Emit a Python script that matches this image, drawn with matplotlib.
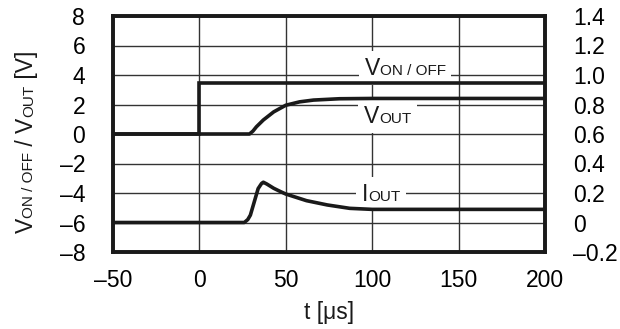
import matplotlib
matplotlib.use("Agg")
import matplotlib.pyplot as plt
from matplotlib.offsetbox import TextArea, HPacker, AnnotationBbox

plt.rcParams['font.family'] = ['Liberation Sans', 'DejaVu Sans']

# data
t_von = [-50, 0, 0, 200]
v_von = [0, 0, 3.45, 3.45]

t_vout = [-50, 29, 31, 33, 37, 43, 50, 58, 66, 81, 100, 200]
v_vout = [0, 0, 0.2, 0.49, 0.95, 1.5, 1.95, 2.18, 2.3, 2.39, 2.41, 2.41]

t_iout = [-50, 26, 28, 29.5, 32, 34, 36, 37, 39, 43, 47, 50, 62, 74, 87, 100, 200]
i_iout = [0, 0, 0.02, 0.05, 0.15, 0.23, 0.265, 0.273, 0.261, 0.232, 0.209, 0.193,
          0.148, 0.119, 0.096, 0.089, 0.089]

x_ticks = [-50, 0, 50, 100, 150, 200]
x_labels = ['\u201350', '0', '50', '100', '150', '200']
y_ticks = [-8, -6, -4, -2, 0, 2, 4, 6, 8]
y_labels = ['\u20138', '\u20136', '\u20134', '\u20132', '0', '2', '4', '6', '8']
i_ticks = [-0.2, 0, 0.2, 0.4, 0.6, 0.8, 1.0, 1.2, 1.4]
i_labels = ['\u20130.2', '0', '0.2', '0.4', '0.6', '0.8', '1.0', '1.2', '1.4']

BIG = 16.5
SMALL = 11
INK = '#1a1a1a'

fig = plt.figure(figsize=(6.2, 3.29), dpi=100)
ax = fig.add_axes([113/620, 1-252/329, 432/620, 236/329])
ax2 = ax.twinx()

ax.set_xlim(-50, 200)
ax.set_ylim(-8, 8)
ax2.set_ylim(-0.2, 1.4)
ax.set_xticks(x_ticks, x_labels)
ax.set_yticks(y_ticks, y_labels)
ax2.set_yticks(i_ticks, i_labels)
ax.tick_params(length=0, labelsize=BIG, pad=12)
ax.tick_params(axis='y', pad=20)
ax2.tick_params(length=0, labelsize=BIG, pad=20)
ax.grid(True, color='#333333', lw=1.0)

for a in (ax, ax2):
    for s in a.spines.values():
        s.set_linewidth(2.6)
        s.set_color(INK)

ax.plot(t_von, v_von, color=INK, lw=2.6, zorder=4, solid_joinstyle='miter')
ax.plot(t_vout, v_vout, color=INK, lw=2.6, zorder=4)
ax2.plot(t_iout, i_iout, color=INK, lw=2.6, zorder=4)


def label(big, small, x, y):
    box = HPacker(children=[TextArea(big, textprops=dict(size=BIG, color=INK)),
                            TextArea(small, textprops=dict(size=SMALL, color=INK))],
                  align='baseline', pad=0, sep=0)
    ab = AnnotationBbox(box, (x, y), xycoords='data', frameon=True, pad=0.4,
                        bboxprops=dict(fc='white', ec='none'), zorder=3)
    ax.add_artist(ab)


label('V', 'ON / OFF', 119, 4.45)
label('V', 'OUT', 109, 1.22)
label('I', 'OUT', 105, -4.07)

# x label
fig.text(329/620, 10/329, 't [\u03bcs]', ha='center', va='baseline', size=BIG, color=INK)

# y label built from pieces, bottom to top
pieces = [('V', BIG), ('ON / OFF', SMALL), (' / ', BIG), ('V', BIG), ('OUT', SMALL), (' [V]', BIG)]
fig.canvas.draw()
r = fig.canvas.get_renderer()
ypix = 329 - 233
for s, sz in pieces:
    t = fig.text(33/620, ypix/329, s, rotation=90, rotation_mode='anchor',
                 ha='left', va='baseline', size=sz, color=INK)
    ypix += t.get_window_extent(r).height

fig.savefig('out.png', dpi=100)
